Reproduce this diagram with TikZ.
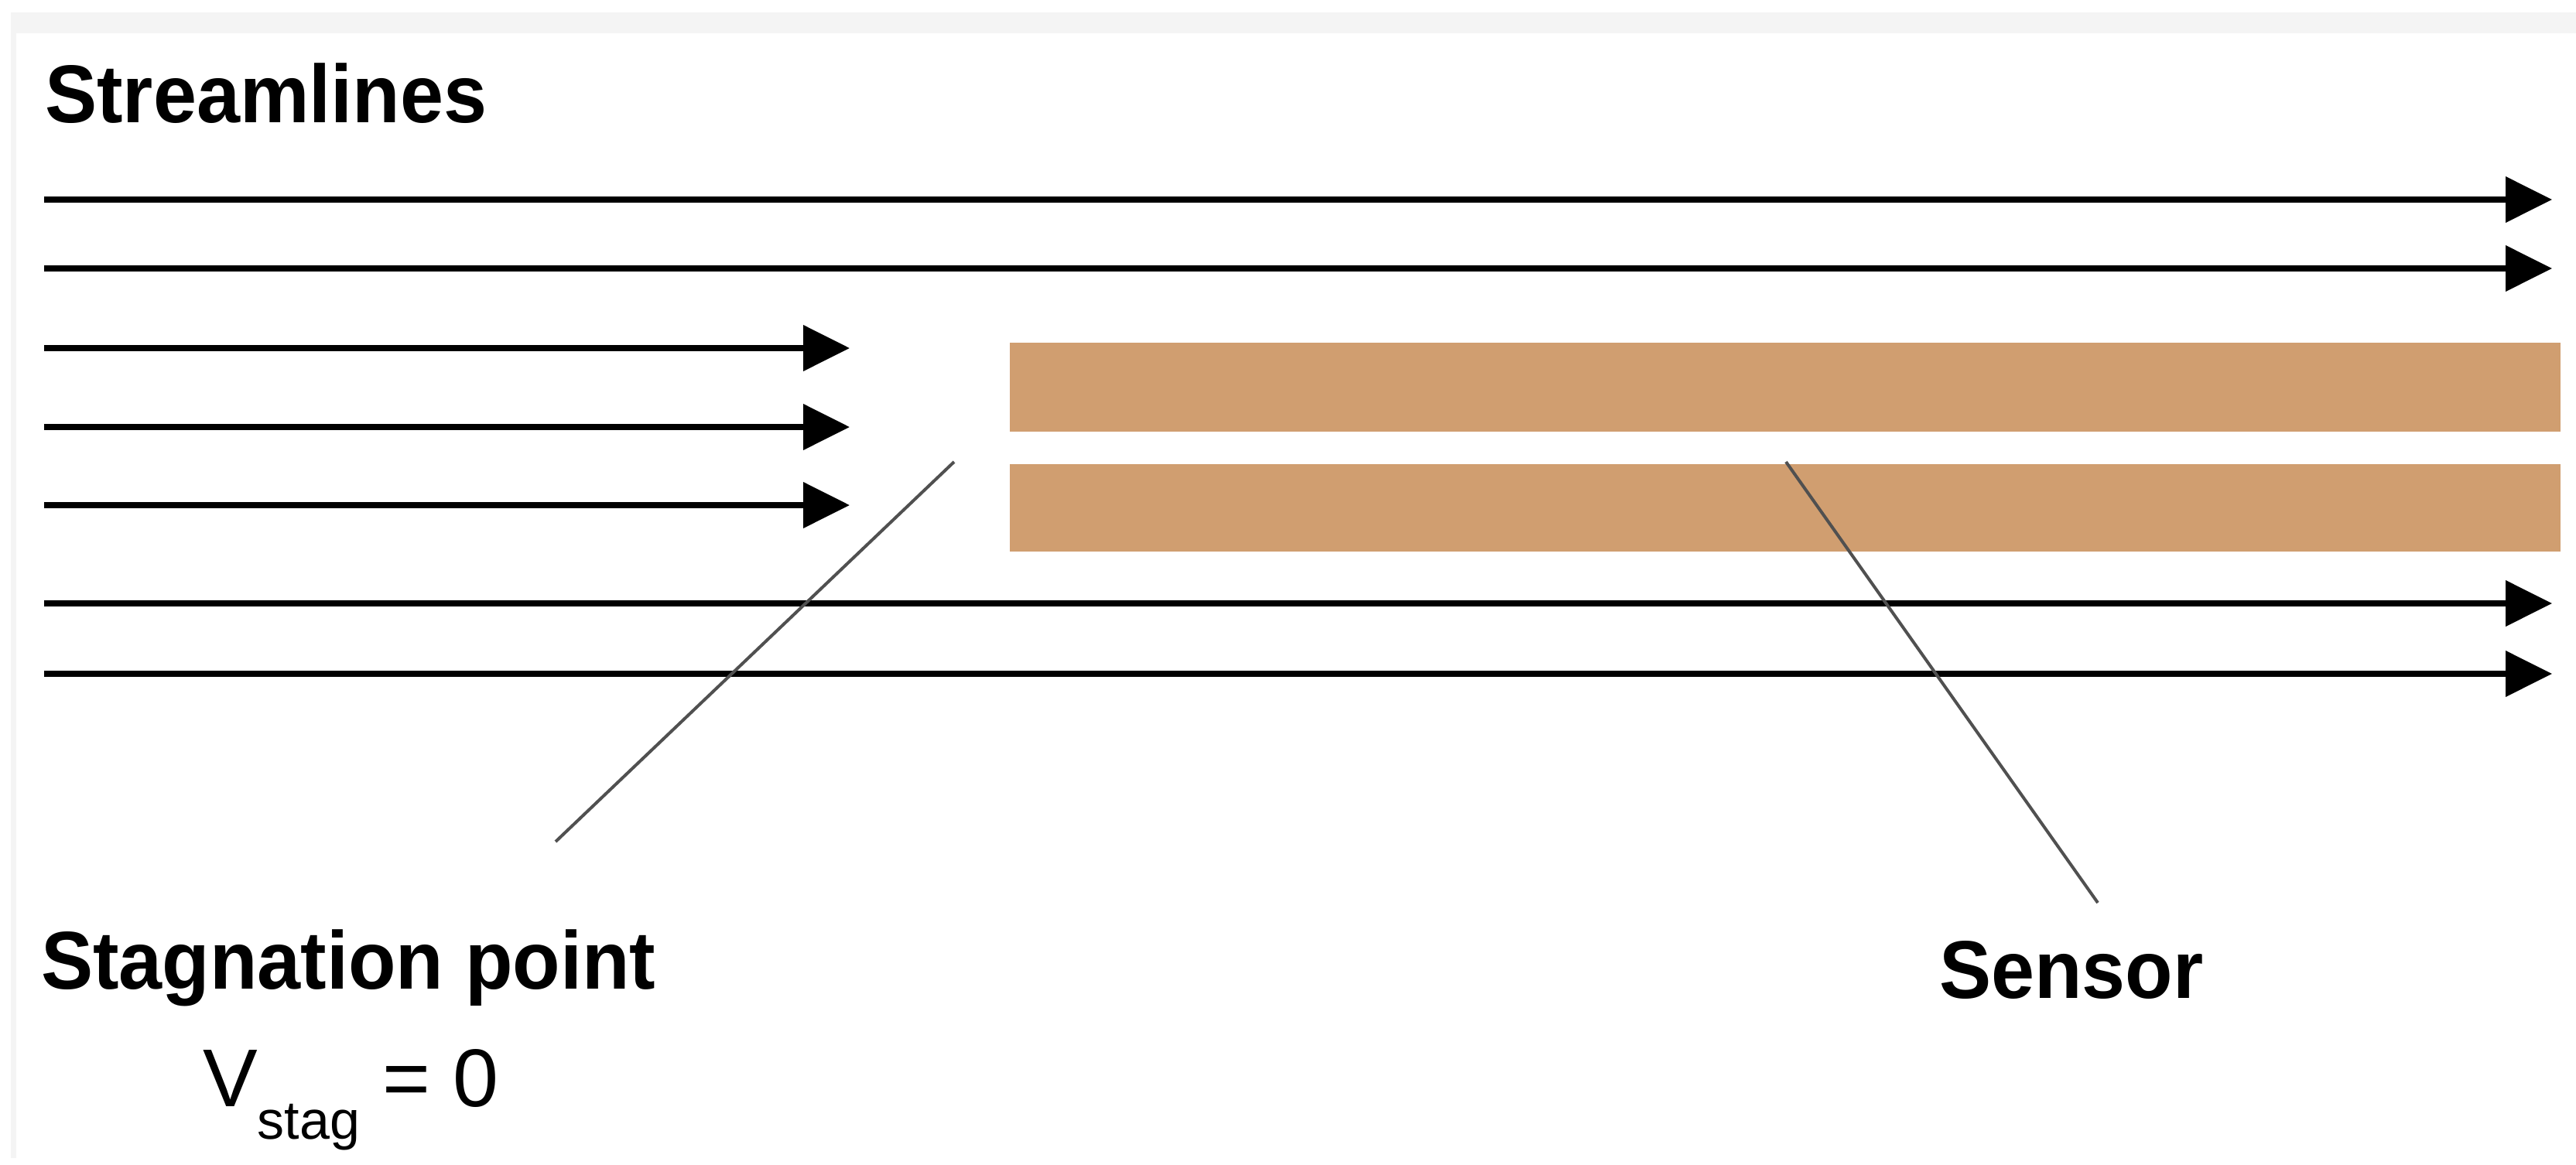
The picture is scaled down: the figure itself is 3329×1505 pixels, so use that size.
\documentclass[tikz,border=0pt]{standalone}
\usepackage{fontspec}
\setmainfont{Liberation Sans}
\newfontfamily\lblfont[FakeStretch=0.95]{Liberation Sans}
\usetikzlibrary{arrows.meta}
\definecolor{sensorbrown}{HTML}{D09E70}
\definecolor{bandgrey}{HTML}{F4F4F4}
\definecolor{leadergrey}{HTML}{505050}
\begin{document}
\begin{tikzpicture}[x=1pt,y=-1pt,
  flow/.style={line width=7.5pt, -{Triangle[length=60pt,width=58pt]}},
  leader/.style={line width=4pt, draw=leadergrey},
  lbl/.style={inner sep=0pt, anchor=base west, font=\lblfont\bfseries\fontsize{106}{120}\selectfont},
  eqn/.style={inner sep=0pt, anchor=base west, font=\fontsize{106}{120}\selectfont},
  sensorbar/.style={fill=sensorbrown, draw=none, inner sep=0pt, anchor=north west, minimum width=2004pt}]
\useasboundingbox[fill=white] (0,0) rectangle (3329,1505);
\fill[bandgrey] (14,16) rectangle (3329,43);
\fill[bandgrey] (14,43) rectangle (21,1497);

% title
\node[lbl] (title) at (58,158) {Streamlines};

% sensor bars
\node[sensorbar, minimum height=115pt] (bar1) at (1305,443) {};
\node[sensorbar, minimum height=113pt] (bar2) at (1305,600) {};

% streamlines
\coordinate (s1a) at (57,258); \coordinate (s1b) at (3298,258);
\coordinate (s2a) at (57,347); \coordinate (s2b) at (3298,347);
\coordinate (s3a) at (57,450); \coordinate (s3b) at (1098,450);
\coordinate (s4a) at (57,552); \coordinate (s4b) at (1098,552);
\coordinate (s5a) at (57,653); \coordinate (s5b) at (1098,653);
\coordinate (s6a) at (57,780); \coordinate (s6b) at (3298,780);
\coordinate (s7a) at (57,871); \coordinate (s7b) at (3298,871);
\foreach \i in {1,...,7} { \draw[flow] (s\i a) -- (s\i b); }

% labels
\node[lbl] (stag) at (53,1278) {Stagnation point};
\node[eqn] (veq) at (262,1430) {V\raisebox{-42pt}{\fontsize{70}{80}\selectfont stag} = 0};
\node[lbl] (sensor) at (2506,1290) {Sensor};

% leader lines
\coordinate (stagtip) at (1233,597);
\coordinate (stagfoot) at (718,1088);
\coordinate (sensortip) at (2308,597);
\coordinate (sensorfoot) at (2711,1167);
\draw[leader] (stagtip) -- (stagfoot);
\draw[leader] (sensortip) -- (sensorfoot);
\end{tikzpicture}
\end{document}
